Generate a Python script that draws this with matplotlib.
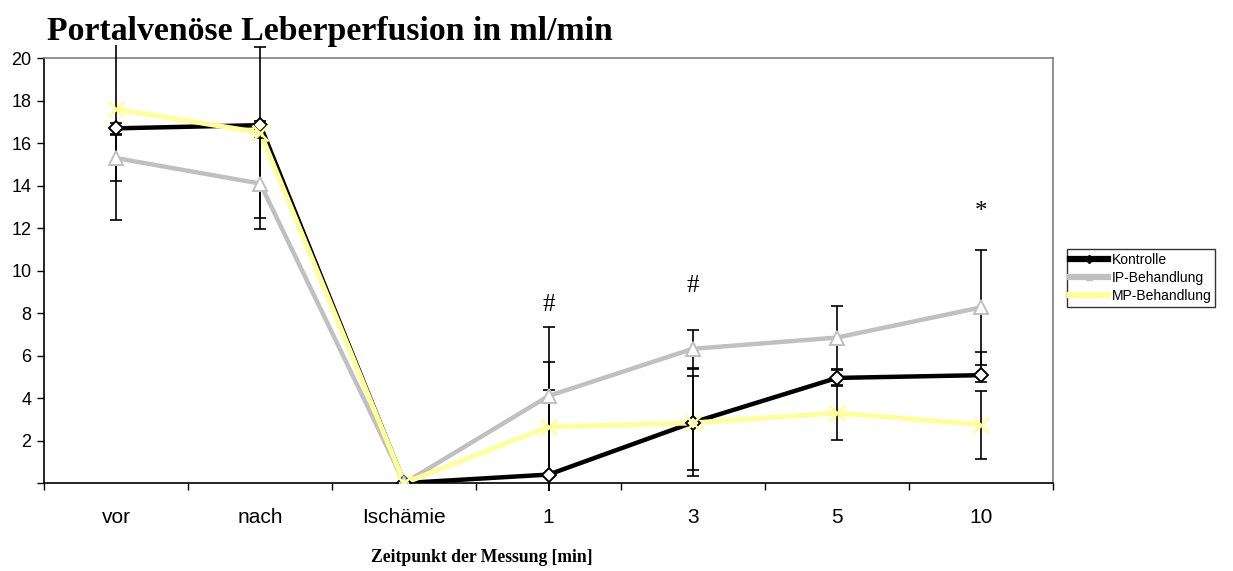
import numpy as np
import matplotlib.pyplot as plt
from matplotlib.patches import Rectangle
from matplotlib.lines import Line2D

zeitpunkte = ["vor", "nach", "Ischämie", "1", "3", "5", "10"]

kontrolle = [16.7, 16.85, 0, 0.4, 2.85, 4.95, 5.08]
ip_behandlung = [15.3, 14.1, 0, 4.1, 6.32, 6.85, 8.27]
mp_behandlung = [17.6, 16.5, 0, 2.65, 2.83, 3.3, 2.75]

# Standardabweichung: erste Zeile nach unten, zweite nach oben
kontrolle_sd = [[0.25, 0.2, 0, 5.3, 2.5, 0.35, 0.32],
                [0.25, 0.2, 0, 5.3, 2.5, 0.35, 1.07]]
ip_sd = [[1.1, 2.14, 0, 0.28, 0.88, 1.5, 2.7],
         [1.1, 2.14, 0, 0.28, 0.88, 1.5, 2.7]]
mp_sd = [[5.2, 4.03, 0, 4.7, 2.2, 1.29, 1.6],
         [5.2, 4.03, 0, 4.7, 2.2, 1.29, 1.6]]

signifikanz = ["", "", "", "#", "#", "", "*"]

x = np.arange(len(zeitpunkte))

fig = plt.figure(figsize=(12.33, 5.71), dpi=100)
ax = fig.add_axes([0.0357, 0.154, 0.8184, 0.744])

serien = [
    ("Kontrolle", kontrolle, kontrolle_sd, "black", "D", "white", "black", 7.5, 3.2),
    ("IP-Behandlung", ip_behandlung, ip_sd, "#c0c0c0", "^", "white", "#c0c0c0", 10.5, 3.2),
    ("MP-Behandlung", mp_behandlung, mp_sd, "#ffff99", "x", "#ffff99", "#ffff99", 11, 3.6),
]

clip = Rectangle((-0.5, -0.35), 7, 20.95, transform=ax.transData)

handles = []
for name, werte, sd, farbe, marker, mfc, mec, ms, lw in serien:
    ax.plot(x, werte, color=farbe, lw=lw, zorder=2, solid_joinstyle="miter")
    eb = ax.errorbar(x, werte, yerr=sd, fmt="none", ecolor="black",
                     elinewidth=1.2, capsize=4, capthick=1.2, zorder=3)
    for art in list(eb[1]) + list(eb[2]):
        art.set_clip_on(True)
        art.set_clip_path(clip)
    ax.plot(x, werte, ls="none", marker=marker, ms=ms, mfc=mfc, mec=mec,
            mew=1.4 if marker != "x" else 1.8, zorder=4)
    handles.append(Line2D([], [], color=farbe, lw=4.5, marker=marker,
                          ms=4, mfc=farbe, mec=farbe, label=name))

# Signifikanzmarker
marker_hoehe = [None, None, None, 8.38, 9.27, None, 12.76]
for xi, txt, h in zip(x, signifikanz, marker_hoehe):
    if txt:
        ax.text(xi, h, txt, ha="center", va="center", fontsize=18,
                family="Liberation Serif")

ax.set_xlim(-0.5, 6.5)
ax.set_ylim(0, 20)

ax.set_xticks(np.arange(-0.5, 7, 1))
ax.set_xticklabels([])
ax.set_xticks(x, minor=True)
ax.set_xticklabels(zeitpunkte, minor=True, fontsize=15, family="Liberation Sans")
ax.tick_params(axis="x", which="major", direction="out", length=5, width=1)
ax.tick_params(axis="x", which="minor", length=0, pad=18)

ax.set_yticks(np.arange(0, 21, 2))
ax.set_yticklabels([""] + [str(v) for v in range(2, 21, 2)],
                   fontsize=13, family="Liberation Sans")
ax.tick_params(axis="y", direction="out", length=5, width=1, pad=4)

for s in ["left", "bottom"]:
    ax.spines[s].set_color("black")
    ax.spines[s].set_linewidth(1.2)
for s in ["top", "right"]:
    ax.spines[s].set_color("#808080")
    ax.spines[s].set_linewidth(1.2)

fig.text(47 / 1233, 1 - 40 / 571, "Portalvenöse Leberperfusion in ml/min",
         fontsize=24.3, fontweight="bold", family="Liberation Serif",
         ha="left", va="baseline")
fig.text(482 / 1233, 1 - 557 / 571, "Zeitpunkt der Messung [min]",
         fontsize=12.7, fontweight="bold", family="Liberation Serif",
         ha="center", va="center")

leg = fig.legend(handles=handles, loc="upper left",
                 bbox_to_anchor=(1066.7 / 1233, 1 - 249.3 / 571),
                 bbox_transform=fig.transFigure, borderaxespad=0,
                 prop={"family": "Liberation Sans", "size": 10},
                 handlelength=2.7, handletextpad=0.3, borderpad=0.25,
                 labelspacing=0.3, fancybox=False, frameon=True)
leg.get_frame().set_edgecolor("black")
leg.get_frame().set_linewidth(1.0)

fig.savefig("out.png", dpi=100)
